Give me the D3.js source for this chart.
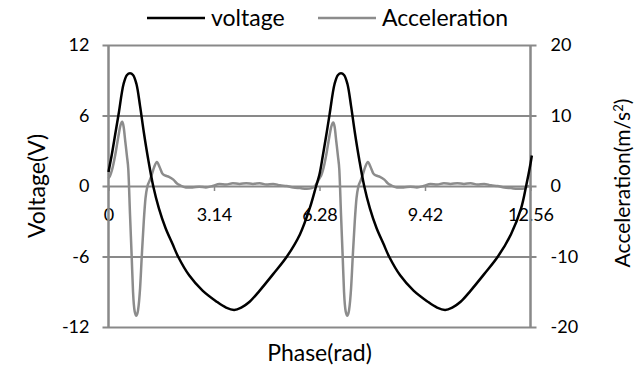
<!DOCTYPE html>
<html><head><meta charset="utf-8">
<script src="https://cdn.jsdelivr.net/npm/d3@7"></script>
<style>
html,body{margin:0;padding:0;background:#fff;}
text{font-family:Lato,"Open Sans",sans-serif;fill:#000;}
</style></head>
<body><svg id="c" width="635" height="367"></svg>
<script>
// ---- data ----
const xTicks = [0, 3.14, 6.28, 9.42, 12.56];
const xTickLabels = ["0", "3.14", "6.28", "9.42", "12.56"];
const leftTicks = [-12, -6, 0, 6, 12];
const leftTickLabels = ["-12", "-6", "0", "6", "12"];
const rightTicks = [-20, -10, 0, 10, 20];
const rightTickLabels = ["-20", "-10", "0", "10", "20"];
const seriesNames = ["voltage", "Acceleration"];

const voltagePhase = [0,0.1,0.2,0.3,0.45,0.55,0.64,0.73,0.83,0.94,1.05,1.18,1.33,1.5,1.7,1.9,2.07,2.4,2.8,3.2,3.5,3.74,3.95,4.2,4.5,4.9,5.31,5.7,6.0,6.18,
  6.28,6.38,6.48,6.58,6.73,6.83,6.92,7.01,7.11,7.22,7.33,7.46,7.61,7.78,7.98,8.18,8.35,8.68,9.08,9.48,9.78,10.02,10.23,10.48,10.78,11.18,11.59,11.98,12.28,12.43,12.56,12.6];
const voltageValue = [1.2,2.7,4.4,6.1,8.7,9.45,9.6,9.45,8.7,6.8,4.6,2.3,0,-1.9,-3.6,-4.9,-6.0,-7.6,-8.9,-9.8,-10.35,-10.55,-10.35,-9.85,-8.9,-7.5,-6.0,-4.1,-1.8,0,
  1.0,2.6,4.3,6.1,8.7,9.45,9.6,9.45,8.7,6.8,4.6,2.3,0,-1.9,-3.6,-4.9,-6.0,-7.6,-8.9,-9.8,-10.35,-10.55,-10.35,-9.85,-8.9,-7.5,-6.0,-4.1,-1.9,0,1.9,2.6];

const accelPhase = [0,0.05,0.10,0.15,0.20,0.25,0.30,0.35,0.41,0.45,0.50,0.55,0.59,0.64,0.69,0.73,0.78,0.83,0.88,0.94,0.99,1.05,1.10,1.16,1.22,1.28,1.36,1.44,1.52,1.60,1.68,1.80,1.93,2.03,2.13,2.30,2.50,2.70,2.90,3.10,3.30,3.50,3.70,3.90,4.10,4.30,4.50,4.70,4.90,5.10,5.30,5.50,5.70,5.90,6.05,6.15,6.22,
  6.28,6.33,6.38,6.43,6.48,6.53,6.58,6.63,6.69,6.73,6.78,6.83,6.87,6.92,6.97,7.01,7.06,7.11,7.16,7.22,7.27,7.33,7.38,7.44,7.50,7.56,7.64,7.72,7.80,7.88,7.96,8.08,8.21,8.31,8.41,8.58,8.78,8.98,9.18,9.38,9.58,9.78,9.98,10.18,10.38,10.58,10.78,10.98,11.18,11.38,11.58,11.78,11.98,12.18,12.33,12.45,12.52];
const accelValue = [1.1,1.5,2.2,3.2,4.4,5.8,7.2,8.5,9.1,8.4,6.3,4.2,2.3,-4.0,-10.0,-15.0,-17.8,-18.4,-17.6,-14.5,-10.0,-5.0,-1.8,0.0,0.7,1.5,2.7,3.4,2.7,1.8,1.5,1.3,0.9,0.4,0.1,-0.2,-0.2,-0.1,-0.2,0.0,0.3,0.2,0.4,0.3,0.4,0.3,0.4,0.2,0.3,0.1,0.0,-0.2,-0.3,-0.4,-0.3,0.0,0.6,
  1.1,1.5,2.2,3.2,4.4,5.8,7.2,8.4,9.0,8.4,6.3,4.2,2.3,-4.0,-10.0,-15.0,-17.8,-18.4,-17.6,-14.5,-10.0,-5.0,-1.8,0.0,0.7,1.5,2.7,3.4,2.7,1.8,1.5,1.3,0.9,0.4,0.1,-0.2,-0.2,-0.1,-0.2,0.0,0.3,0.2,0.4,0.3,0.4,0.3,0.4,0.2,0.3,0.1,0.0,-0.2,-0.3,-0.4,-0.4,-0.1,0.0];

// ---- layout ----
const svg = d3.select("#c");
const L = 108.5, R = 530.5, T = 45, B = 327;
const gridColor = "#898989", accColor = "#8c8c8c";
const x = d3.scaleLinear().domain([0, 12.56]).range([L, R]);
const yL = d3.scaleLinear().domain([-12, 12]).range([B, T]);
const yR = d3.scaleLinear().domain([-20, 20]).range([B, T]);
const fs = 18, tfs = 23;

// gridlines + left labels
const gl = svg.append("g").attr("transform", `translate(${L},0)`)
  .call(d3.axisLeft(yL).tickValues(leftTicks).tickSize(6).tickPadding(13)
    .tickFormat((d, i) => leftTickLabels[i]));
gl.select(".domain").remove();
gl.selectAll(".tick line").attr("x1", R - L + 6).attr("x2", -6).attr("stroke", gridColor).attr("stroke-width", 2);
gl.selectAll(".tick text").style("font-size", fs + "px").style("font-family", "Lato");

// right labels
const gr = svg.append("g").attr("transform", `translate(${R},0)`)
  .call(d3.axisRight(yR).tickValues(rightTicks).tickSize(0).tickPadding(20)
    .tickFormat((d, i) => rightTickLabels[i]));
gr.select(".domain").remove();
gr.selectAll(".tick text").style("font-size", fs + "px").style("font-family", "Lato");

// x axis at zero
const gx = svg.append("g").attr("transform", `translate(0,${yL(0)})`)
  .call(d3.axisBottom(x).tickValues(xTicks).tickSize(5).tickPadding(17).tickFormat((d, i) => xTickLabels[i]));
gx.select(".domain").remove();
gx.selectAll(".tick line").attr("stroke", gridColor).attr("stroke-width", 1.5);
gx.selectAll(".tick text").style("font-size", fs + "px").style("font-family", "Lato");

// vertical axis lines
svg.append("line").attr("x1", L).attr("x2", L).attr("y1", T).attr("y2", B + 1).attr("stroke", gridColor).attr("stroke-width", 2.5);
svg.append("line").attr("x1", R).attr("x2", R).attr("y1", T).attr("y2", B + 1).attr("stroke", gridColor).attr("stroke-width", 2.5);

// series
const accData = accelPhase.map((p, i) => [p, accelValue[i]]);
const volData = voltagePhase.map((p, i) => [p, voltageValue[i]]);
svg.append("path").datum(accData)
  .attr("d", d3.line().x(d => x(d[0])).y(d => yR(d[1])).curve(d3.curveMonotoneX))
  .attr("fill", "none").attr("stroke", accColor).attr("stroke-width", 2.5).attr("stroke-linejoin", "round");
svg.append("path").datum(volData)
  .attr("d", d3.line().x(d => x(d[0])).y(d => yL(d[1])).curve(d3.curveCatmullRom.alpha(0.5)))
  .attr("fill", "none").attr("stroke", "#000").attr("stroke-width", 2.5).attr("stroke-linejoin", "round");

// axis titles
svg.append("text").attr("transform", `translate(37,${(T + B) / 2}) rotate(-90)`)
  .attr("text-anchor", "middle").attr("dy", "0.35em").style("font-size", tfs + "px").text("Voltage(V)");
const at = svg.append("text").attr("transform", `translate(623,${(T + B) / 2 - 3}) rotate(-90)`)
  .attr("text-anchor", "middle").attr("dy", "0.35em").style("font-size", "21px");
at.append("tspan").text("Acceleration(m/s");
at.append("tspan").attr("dy", -7).style("font-size", "13px").text("2");
at.append("tspan").attr("dy", 7).text(")");
svg.append("text").attr("x", (L + R) / 2).attr("y", 353).attr("dy", "0.35em").attr("text-anchor", "middle")
  .style("font-size", tfs + "px").text("Phase(rad)");

// legend
const legend = [{name: seriesNames[0], color: "#000", x: 147}, {name: seriesNames[1], color: accColor, x: 318}];
legend.forEach(l => {
  svg.append("line").attr("x1", l.x).attr("x2", l.x + 58).attr("y1", 18).attr("y2", 18)
    .attr("stroke", l.color).attr("stroke-width", 2.5);
  svg.append("text").attr("x", l.x + 64).attr("y", 18).attr("dy", "0.35em")
    .style("font-size", tfs + "px").text(l.name);
});
</script></body></html>
